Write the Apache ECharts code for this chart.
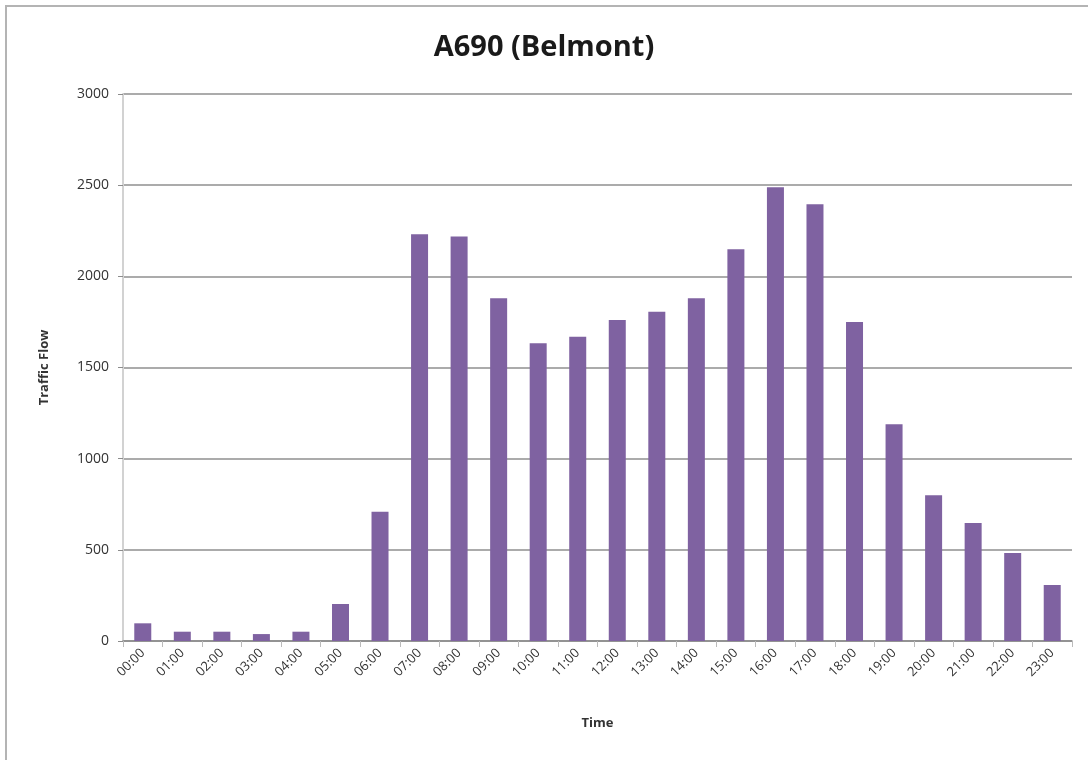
<!DOCTYPE html>
<html>
<head>
<meta charset="utf-8">
<script src="https://cdn.jsdelivr.net/npm/echarts@6/dist/echarts.min.js"></script>
<style>
  html, body { margin: 0; padding: 0; background: #fff; }
  #chart { width: 1088px; height: 760px; }
</style>
</head>
<body>
<div id="chart"></div>
<script>
// Hourly traffic counts at A690 (Belmont)
const hours = ['00:00','01:00','02:00','03:00','04:00','05:00','06:00','07:00','08:00','09:00','10:00','11:00',
               '12:00','13:00','14:00','15:00','16:00','17:00','18:00','19:00','20:00','21:00','22:00','23:00'];
const traffic = [97, 51, 51, 38, 51, 203, 709, 2231, 2218, 1880, 1633, 1669,
                 1761, 1806, 1880, 2149, 2489, 2396, 1750, 1189, 799, 647, 483, 307];
const yTicks = { min: 0, max: 3000, interval: 500 };

const chart = echarts.init(document.getElementById('chart'), null, { renderer: 'canvas' });
const font = '"Open Sans", "Liberation Sans", sans-serif';

chart.setOption({
  backgroundColor: '#ffffff',
  animation: false,
  title: {
    text: 'A690 (Belmont)',
    left: 'center',
    top: 28,
    textStyle: { fontFamily: font, fontSize: 29, fontWeight: 'bold', color: '#1a1a1a' }
  },
  graphic: [{
    type: 'rect',
    shape: { x: 6, y: 6, width: 1200, height: 900 },
    style: { fill: 'none', stroke: '#b4b4b4', lineWidth: 2 },
    silent: true
  }],
  grid: { left: 123, right: 16, top: 94, bottom: 119 },
  xAxis: {
    type: 'category',
    data: hours,
    name: 'Time',
    nameLocation: 'middle',
    nameGap: 76,
    nameTextStyle: { fontFamily: font, fontSize: 13, fontWeight: 'bold', color: '#333' },
    axisLine: { lineStyle: { color: '#8c8c8c', width: 1.5 } },
    axisTick: { show: true, alignWithLabel: false, length: 6, lineStyle: { color: '#bbbbbb' } },
    axisLabel: { rotate: 45, fontFamily: font, fontSize: 13, color: '#333', margin: 10, interval: 0 }
  },
  yAxis: {
    type: 'value',
    min: yTicks.min,
    max: yTicks.max,
    interval: yTicks.interval,
    name: 'Traffic Flow',
    nameLocation: 'middle',
    nameGap: 72,
    nameTextStyle: { fontFamily: font, fontSize: 13, fontWeight: 'bold', color: '#333' },
    axisLine: { show: true, lineStyle: { color: '#d2d2d2', width: 2 } },
    axisTick: { show: true, length: 5, lineStyle: { color: '#8c8c8c' } },
    axisLabel: { fontFamily: font, fontSize: 14, color: '#333', margin: 14, formatter: v => String(v) },
    splitLine: { lineStyle: { color: '#8f8f8f', width: 1.5 } }
  },
  series: [{
    type: 'bar',
    data: traffic,
    barWidth: '43%',
    itemStyle: { color: '#7f62a1' }
  }]
});
</script>
</body>
</html>
